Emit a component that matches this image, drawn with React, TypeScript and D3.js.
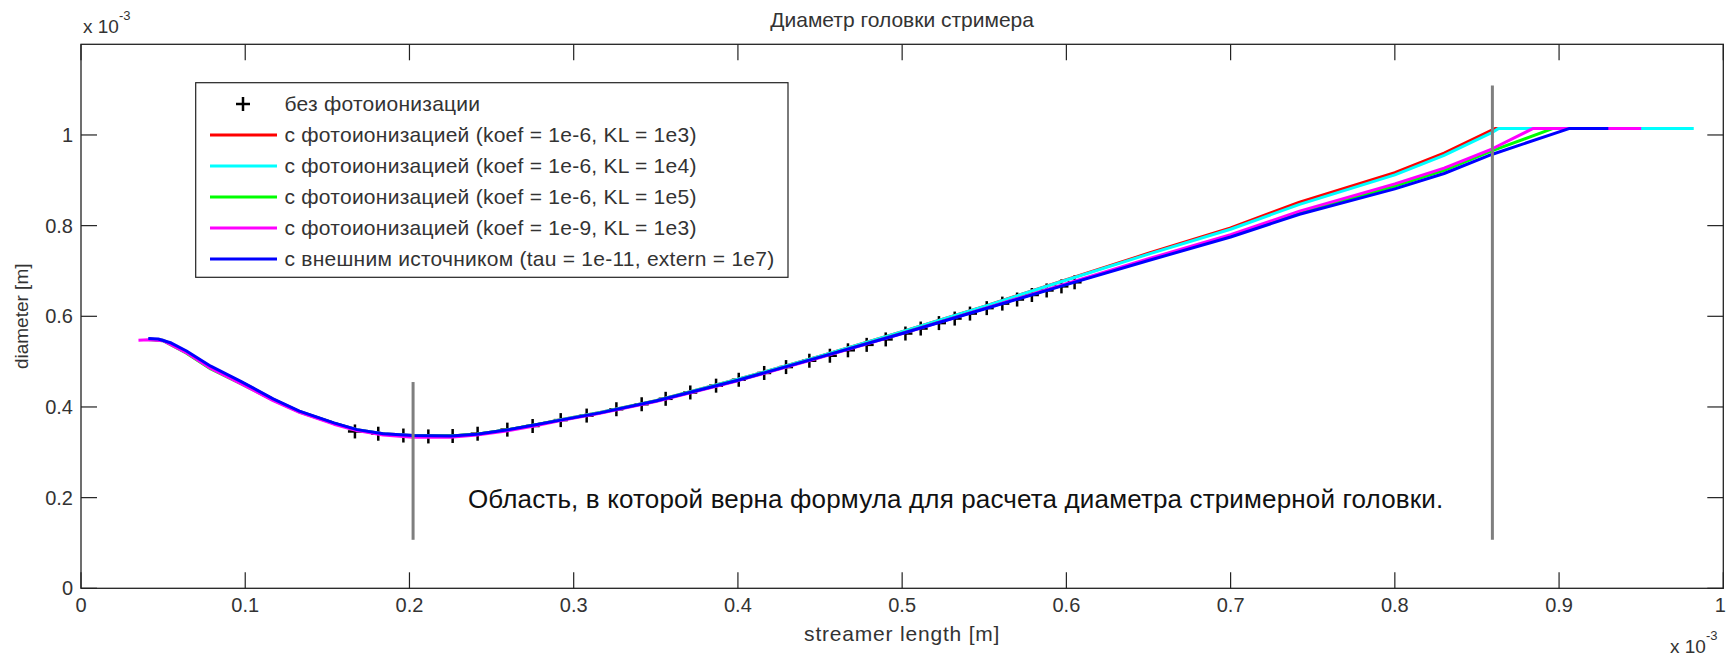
import React from "react";
import * as d3 from "d3";

// ---------- DATA ----------
const X_TICKS = [0, 0.1, 0.2, 0.3, 0.4, 0.5, 0.6, 0.7, 0.8, 0.9, 1];
const X_TICK_LABELS = ["0", "0.1", "0.2", "0.3", "0.4", "0.5", "0.6", "0.7", "0.8", "0.9", "1"];
const Y_TICKS = [0, 0.2, 0.4, 0.6, 0.8, 1];
const Y_TICK_LABELS = ["0", "0.2", "0.4", "0.6", "0.8", "1"];

const TITLE = "Диаметр головки стримера";
const X_LABEL = "streamer length [m]";
const Y_LABEL = "diameter [m]";
const ANNOTATION = "Область, в которой верна формула для расчета диаметра стримерной головки.";

const LEGEND_LABELS = [
  "без фотоионизации",
  "с фотоионизацией (koef = 1e-6, KL = 1e3)",
  "с фотоионизацией (koef = 1e-6, KL = 1e4)",
  "с фотоионизацией (koef = 1e-6, KL = 1e5)",
  "с фотоионизацией (koef = 1e-9, KL = 1e3)",
  "с внешним источником (tau = 1e-11, extern = 1e7)",
];
const SERIES_COLORS = ["#000000", "#ff0000", "#00ffff", "#00ff00", "#ff00ff", "#0000ff"];

// без фотоионизации (markers "+")
const NO_PHOTO: [number, number][] = [
  [0.1668, 0.346], [0.181, 0.341], [0.1963, 0.337], [0.2115, 0.335], [0.2263, 0.336],
  [0.2415, 0.341], [0.2596, 0.35], [0.275, 0.358], [0.2921, 0.371], [0.3079, 0.381],
  [0.326, 0.395], [0.3414, 0.406], [0.356, 0.418], [0.371, 0.432], [0.3867, 0.447],
  [0.4005, 0.46], [0.416, 0.475], [0.4293, 0.488], [0.4435, 0.502], [0.456, 0.513],
  [0.467, 0.525], [0.4784, 0.537], [0.49, 0.549], [0.502, 0.562], [0.5113, 0.573],
  [0.5224, 0.585], [0.532, 0.595], [0.5413, 0.606], [0.5515, 0.618], [0.561, 0.628],
  [0.57, 0.637], [0.579, 0.647], [0.588, 0.657], [0.597, 0.666], [0.605, 0.675],
];

// koef = 1e-6, KL = 1e3 (red)
const RED: [number, number][] = [
  [0.041, 0.55], [0.05, 0.547], [0.064, 0.522], [0.079, 0.488], [0.097, 0.456],
  [0.117, 0.417], [0.133, 0.39], [0.154, 0.364], [0.168, 0.35], [0.184, 0.341],
  [0.202, 0.337], [0.225, 0.336], [0.241, 0.34], [0.259, 0.349], [0.276, 0.36],
  [0.292, 0.372], [0.316, 0.388], [0.35, 0.414], [0.4, 0.461], [0.45, 0.512],
  [0.5, 0.566], [0.55, 0.622], [0.6, 0.681], [0.65, 0.739], [0.7, 0.795],
  [0.742, 0.852], [0.8, 0.917], [0.83, 0.96], [0.861, 1.014], [0.96, 1.014],
];

// koef = 1e-6, KL = 1e4 (cyan)
const CYAN: [number, number][] = [
  [0.041, 0.55], [0.05, 0.547], [0.064, 0.522], [0.079, 0.488], [0.097, 0.456],
  [0.117, 0.417], [0.133, 0.39], [0.154, 0.364], [0.168, 0.35], [0.184, 0.341],
  [0.202, 0.337], [0.225, 0.336], [0.241, 0.34], [0.259, 0.349], [0.276, 0.36],
  [0.292, 0.372], [0.316, 0.388], [0.35, 0.414], [0.4, 0.461], [0.45, 0.512],
  [0.5, 0.566], [0.55, 0.622], [0.6, 0.68], [0.65, 0.737], [0.7, 0.792],
  [0.742, 0.847], [0.8, 0.912], [0.83, 0.955], [0.859, 1.005], [0.863, 1.014],
  [0.982, 1.014],
];

// koef = 1e-6, KL = 1e5 (green)
const GREEN: [number, number][] = [
  [0.041, 0.549], [0.05, 0.546], [0.064, 0.519], [0.079, 0.484], [0.097, 0.452],
  [0.117, 0.415], [0.133, 0.389], [0.154, 0.364], [0.168, 0.349], [0.184, 0.34],
  [0.202, 0.336], [0.225, 0.336], [0.241, 0.34], [0.259, 0.349], [0.276, 0.36],
  [0.292, 0.371], [0.316, 0.387], [0.35, 0.413], [0.4, 0.459], [0.45, 0.51],
  [0.5, 0.563], [0.55, 0.617], [0.6, 0.671], [0.65, 0.725], [0.7, 0.778],
  [0.742, 0.829], [0.8, 0.887], [0.83, 0.922], [0.859, 0.965], [0.896, 1.014],
  [0.92, 1.014],
];

// koef = 1e-9, KL = 1e3 (magenta)
const MAGENTA: [number, number][] = [
  [0.035, 0.547], [0.041, 0.548], [0.05, 0.546], [0.064, 0.52], [0.079, 0.485],
  [0.097, 0.452], [0.117, 0.414], [0.133, 0.388], [0.154, 0.362], [0.168, 0.348],
  [0.184, 0.338], [0.202, 0.333], [0.225, 0.333], [0.241, 0.338], [0.259, 0.347],
  [0.276, 0.358], [0.292, 0.37], [0.316, 0.386], [0.35, 0.412], [0.4, 0.458],
  [0.45, 0.509], [0.5, 0.562], [0.55, 0.617], [0.6, 0.672], [0.65, 0.727],
  [0.7, 0.78], [0.742, 0.832], [0.8, 0.892], [0.83, 0.927], [0.859, 0.969],
  [0.884, 1.014], [0.95, 1.014],
];

// внешний источник (blue)
const BLUE: [number, number][] = [
  [0.041, 0.551], [0.047, 0.55], [0.055, 0.541], [0.064, 0.524], [0.079, 0.49],
  [0.097, 0.457], [0.117, 0.418], [0.133, 0.391], [0.154, 0.365], [0.168, 0.35],
  [0.184, 0.341], [0.202, 0.337], [0.225, 0.336], [0.241, 0.34], [0.259, 0.349],
  [0.276, 0.36], [0.292, 0.371], [0.316, 0.387], [0.35, 0.413], [0.4, 0.459],
  [0.45, 0.51], [0.5, 0.562], [0.55, 0.616], [0.6, 0.67], [0.65, 0.723],
  [0.7, 0.775], [0.742, 0.825], [0.8, 0.881], [0.83, 0.915], [0.859, 0.957],
  [0.906, 1.014], [0.93, 1.014],
];

// gray vertical markers of the validity region: [x, yBottom, yTop]
const REGION_LINES: [number, number, number][] = [
  [0.2022, 0.107, 0.455],
  [0.8594, 0.107, 1.109],
];

// ---------- LAYOUT ----------
const W = 1727;
const H = 656;
const FONT = "'Liberation Sans', Arial, Helvetica, sans-serif";
const TEXT_COLOR = "#333";

export default function App() {
  const x = d3.scaleLinear().domain([0, 1]).range([81, 1723.3]);
  const y = d3.scaleLinear().domain([0, 1.2]).range([588.3, 44.3]);
  const line = d3
    .line<[number, number]>()
    .x((d) => x(d[0]))
    .y((d) => y(d[1]));

  const [x0, x1] = x.range();
  const [yb, yt] = y.range();
  const tickLen = 16;

  const lineSeries = [RED, CYAN, GREEN, MAGENTA, BLUE];

  const legendX = 195.7;
  const legendY = 82.7;
  const legendW = 592.3;
  const legendH = 194.6;
  const rowY = (i: number) => 104 + i * 31;

  const plus = (cx: number, cy: number, s: number, key: string) => (
    <g key={key} stroke="#000" strokeWidth={2.5}>
      <line x1={cx - s / 2} x2={cx + s / 2} y1={cy} y2={cy} />
      <line x1={cx} x2={cx} y1={cy - s / 2} y2={cy + s / 2} />
    </g>
  );

  return (
    <div style={{ position: "absolute", left: 0, top: 0, width: W, height: H, background: "#fff" }}>
      <svg width={W} height={H} style={{ display: "block", fontFamily: FONT }}>
        <rect x={0} y={0} width={W} height={H} fill="#fff" />

        {/* title */}
        <text x={(x0 + x1) / 2} y={27} textAnchor="middle" fontSize={21} fill={TEXT_COLOR}>
          {TITLE}
        </text>

        {/* exponent labels */}
        <text x={83} y={33} fontSize={19} fill={TEXT_COLOR}>
          x 10
          <tspan dy={-13} fontSize={13}>-3</tspan>
        </text>
        <text x={1670} y={653} fontSize={19} fill={TEXT_COLOR}>
          x 10
          <tspan dy={-13} fontSize={13}>-3</tspan>
        </text>

        {/* series markers: без фотоионизации */}
        {NO_PHOTO.map((d, i) => plus(x(d[0]), y(d[1]), 14, "m" + i))}

        {/* series lines */}
        {lineSeries.map((s, i) => (
          <path
            key={"s" + i}
            d={line(s) || ""}
            fill="none"
            stroke={SERIES_COLORS[i + 1]}
            strokeWidth={3}
            strokeLinejoin="round"
          />
        ))}

        {/* region lines */}
        {REGION_LINES.map((r, i) => (
          <line
            key={"r" + i}
            x1={x(r[0])}
            x2={x(r[0])}
            y1={y(r[1])}
            y2={y(r[2])}
            stroke="#7f7f7f"
            strokeWidth={3}
          />
        ))}

        {/* annotation */}
        <text x={468} y={508} fontSize={26} letterSpacing={0.15} fill="#111">
          {ANNOTATION}
        </text>

        {/* axes box */}
        <rect x={x0} y={yt} width={x1 - x0} height={yb - yt} fill="none" stroke="#222" strokeWidth={1.3} />

        {/* x ticks */}
        {X_TICKS.map((t, i) => {
          const last = i === X_TICKS.length - 1;
          return (
            <g key={"xt" + i}>
              <line x1={x(t)} x2={x(t)} y1={yb} y2={yb - tickLen} stroke="#222" strokeWidth={1.2} />
              <line x1={x(t)} x2={x(t)} y1={yt} y2={yt + tickLen} stroke="#222" strokeWidth={1.2} />
              <text
                x={last ? x(t) + 2.5 : x(t)}
                y={612}
                textAnchor={last ? "end" : "middle"}
                fontSize={20}
                fill={TEXT_COLOR}
              >
                {X_TICK_LABELS[i]}
              </text>
            </g>
          );
        })}

        {/* y ticks */}
        {Y_TICKS.map((t, i) => (
          <g key={"yt" + i}>
            <line x1={x0} x2={x0 + tickLen} y1={y(t)} y2={y(t)} stroke="#222" strokeWidth={1.2} />
            <line x1={x1} x2={x1 - tickLen} y1={y(t)} y2={y(t)} stroke="#222" strokeWidth={1.2} />
            <text x={73} y={y(t)} dy="0.35em" textAnchor="end" fontSize={20} fill={TEXT_COLOR}>
              {Y_TICK_LABELS[i]}
            </text>
          </g>
        ))}

        {/* axis labels */}
        <text x={(x0 + x1) / 2} y={641} textAnchor="middle" fontSize={21} letterSpacing={0.8} fill={TEXT_COLOR}>
          {X_LABEL}
        </text>
        <text
          transform={`translate(28, ${(yb + yt) / 2}) rotate(-90)`}
          textAnchor="middle"
          fontSize={19}
          fill={TEXT_COLOR}
        >
          {Y_LABEL}
        </text>

        {/* legend */}
        <rect x={legendX} y={legendY} width={legendW} height={legendH} fill="#fff" stroke="#222" strokeWidth={1.2} />
        {LEGEND_LABELS.map((lab, i) => (
          <g key={"lg" + i}>
            {i === 0 ? (
              plus(243, rowY(i), 14, "lgp")
            ) : (
              <line x1={210} x2={277} y1={rowY(i)} y2={rowY(i)} stroke={SERIES_COLORS[i]} strokeWidth={3} />
            )}
            <text x={284.5} y={rowY(i)} dy="0.35em" fontSize={21} letterSpacing={0.25} fill={TEXT_COLOR}>
              {lab}
            </text>
          </g>
        ))}
      </svg>
    </div>
  );
}
